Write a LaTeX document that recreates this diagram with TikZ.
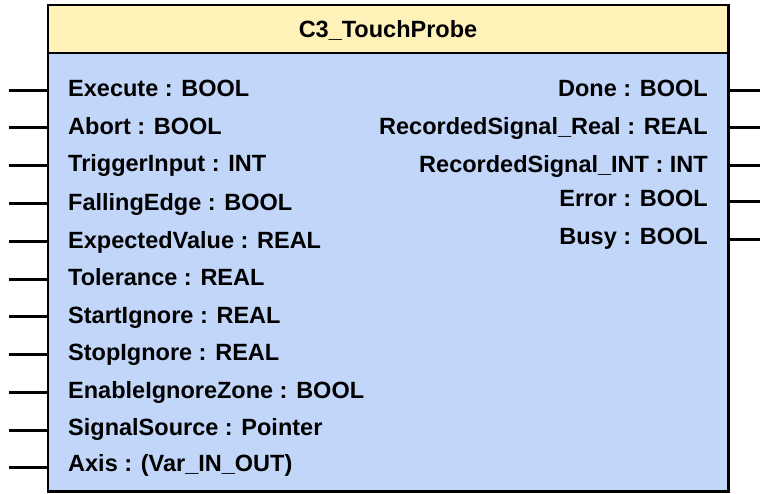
\documentclass[tikz,border=0pt]{standalone}
\usepackage{fontspec}
\setmainfont{Liberation Sans}
\definecolor{hdr}{HTML}{FFF2B8}
\definecolor{bdy}{HTML}{C1D6F8}
\begin{document}
\begin{tikzpicture}[x=1pt,y=-1pt,
  lbl/.style={font=\fontsize{23.5}{26}\selectfont\bfseries, inner sep=0pt},
  pin/.style={line width=3pt, black},
  box/.style={draw=black, line width=2.5pt}]
\useasboundingbox (0,0) rectangle (760,494);
\path[box, fill=bdy] (48,53) rectangle (728.3,491.5);
\path[box, fill=hdr] (48,5) rectangle (728.3,53);
\node[lbl, anchor=base] (title) at (388,37.4) {C3\_TouchProbe};
\coordinate (L) at (48,0);
\coordinate (R) at (728.3,0);
\foreach \n/\t/\y/\p in {i1/Execute : BOOL/88/90.5, i2/Abort : BOOL/126.3/127.5, i3/TriggerInput : INT/163.3/165.5, i4/FallingEdge : BOOL/201.7/203.5, i5/ExpectedValue : REAL/240/241.5, i6/Tolerance : REAL/277.5/279.5, i7/StartIgnore : REAL/315/316.5, i8/StopIgnore : REAL/352/354.5, i9/EnableIgnoreZone : BOOL/390/392.5, i10/SignalSource : Pointer/426.7/430.5, i11/Axis : (Var\_IN\_OUT)/463.3/467.5} {
  \node[lbl, anchor=base west] (\n) at (68,\y+8.4) {\t};
  \coordinate (p\n) at (9,\p);
  \draw[pin] (p\n) -- (L |- p\n);
}
\foreach \n/\t/\y/\p in {o1/Done : BOOL/88.3/90.5, o2/RecordedSignal\_Real : REAL/126/127.5, o3/RecordedSignal\_INT : INT/164/165.5, o4/Error : BOOL/198/201.5, o5/Busy : BOOL/235.8/239.5} {
  \node[lbl, anchor=base east] (\n) at (708,\y+8.4) {\t};
  \coordinate (p\n) at (760,\p);
  \draw[pin] (R |- p\n) -- (p\n);
}
\end{tikzpicture}
\end{document}
